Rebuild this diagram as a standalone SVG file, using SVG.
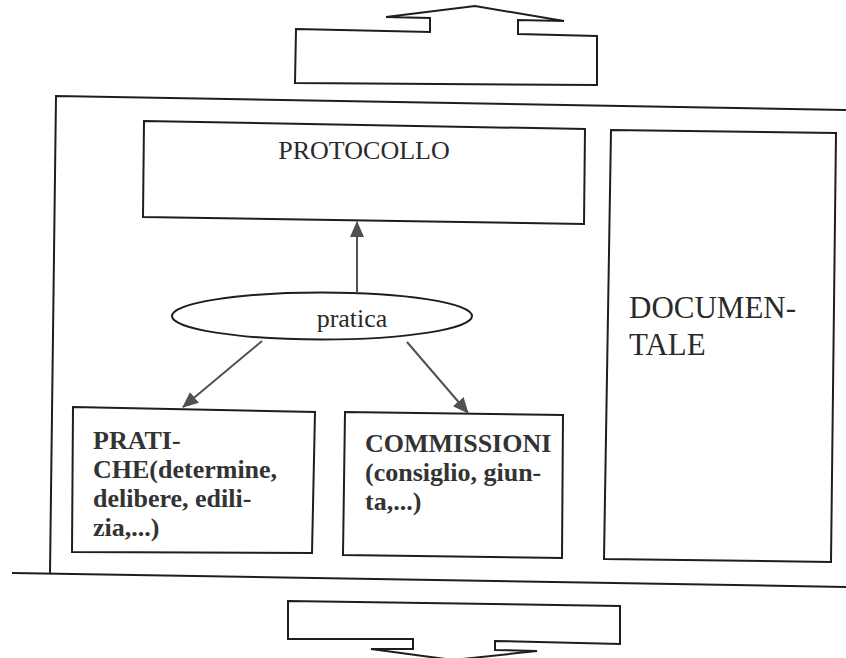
<svg xmlns="http://www.w3.org/2000/svg" width="846" height="658" viewBox="0 0 846 658">
<style>
.ln{fill:none;stroke:#1e1e1e;stroke-width:2;stroke-linejoin:miter}
.txt{font-family:"Liberation Serif","Times New Roman",serif;fill:#2a2a2a}
.b{font-weight:bold;font-size:26px;fill:#333333}
.con{stroke:#505050;stroke-width:2;fill:none}
</style>
<defs>
<marker id="arr" viewBox="0 0 16 14" refX="15" refY="7" markerWidth="16" markerHeight="14" markerUnits="userSpaceOnUse" orient="auto">
<path d="M0,0 L16,7 L0,14 Z" fill="#505050"/>
</marker>
</defs>
<rect width="846" height="658" fill="#ffffff"/>
<g id="top-arrow">
<path class="ln" d="M296,29 L430,32 L430,18 L386,17 L475,6 L564,21 L518,20 L518,34 L597,36 L597,85 L295,83 Z"/>
</g>
<g id="container">
<path class="ln" d="M846,110 L56,96 L50,573"/>
<path class="ln" d="M12,573 L846,587"/>
</g>
<g id="protocollo">
<path class="ln" d="M144,121 L585,129 L584,224 L143,217 Z"/>
<text class="txt" x="364" y="159" font-size="26" text-anchor="middle">PROTOCOLLO</text>
</g>
<g id="documentale">
<path class="ln" d="M611,130 L836,133 L831,562 L604,559 Z"/>
<text class="txt" x="629" y="318" font-size="31">DOCUMEN-</text>
<text class="txt" x="629" y="355" font-size="31">TALE</text>
</g>
<g id="pratica">
<ellipse class="ln" cx="322" cy="316" rx="150" ry="23.5"/>
<text class="txt" x="352" y="327" font-size="26" text-anchor="middle">pratica</text>
</g>
<g id="pratiche">
<path class="ln" d="M73,407 L315,412 L312,553 L72,552 Z"/>
<text class="txt b" x="93" y="449">PRATI-</text>
<text class="txt b" x="93" y="478">CHE(determine,</text>
<text class="txt b" x="93" y="507">delibere, edili-</text>
<text class="txt b" x="93" y="536">zia,...)</text>
</g>
<g id="commissioni">
<path class="ln" d="M345,412 L563,415 L562,558 L343,555 Z"/>
<text class="txt b" x="365" y="452">COMMISSIONI</text>
<text class="txt b" x="365" y="481">(consiglio, giun-</text>
<text class="txt b" x="365" y="510">ta,...)</text>
</g>
<g id="bottom-arrow">
<path class="ln" d="M288,601 L620,606 L620,644 L495,641 L495,650 L537,651 L453,660 L371,649 L413,649 L413,639 L288,639 Z"/>
</g>
<g id="connectors">
<line class="con" x1="357" y1="293" x2="357" y2="222" marker-end="url(#arr)"/>
<line class="con" x1="262" y1="341" x2="183" y2="407" marker-end="url(#arr)"/>
<line class="con" x1="407" y1="342" x2="468" y2="413" marker-end="url(#arr)"/>
</g>
</svg>
